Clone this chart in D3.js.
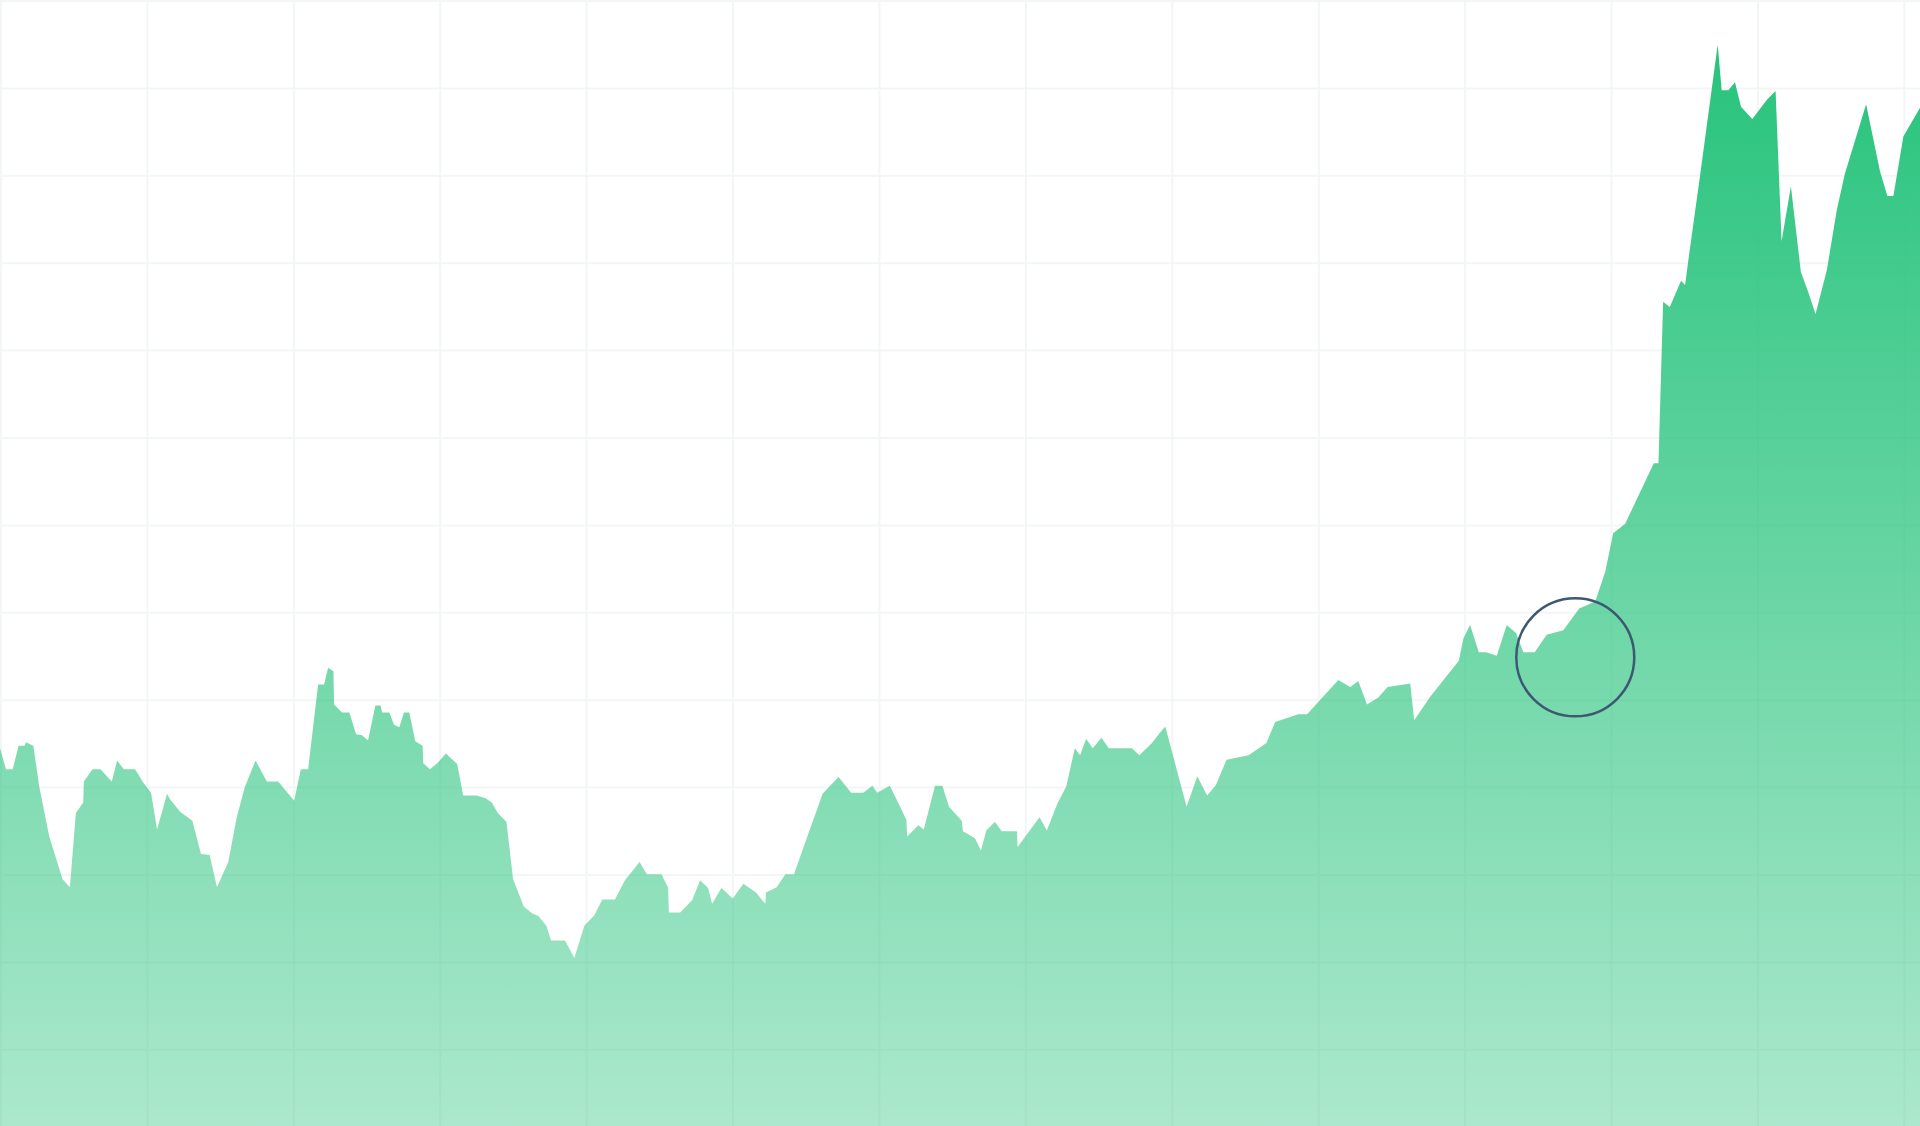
<!DOCTYPE html>
<html>
<head>
<meta charset="utf-8">
<script src="https://cdn.jsdelivr.net/npm/d3@7"></script>
<style>
  html, body { margin: 0; padding: 0; background: #ffffff; overflow: hidden; }
  svg { display: block; }
</style>
</head>
<body>
<div id="chart"></div>
<script>
// ---- data (trading-day offset, price) ----
const days = [
  0, 0.9, 1.9, 2.8, 3.7, 3.9, 5.0, 5.9, 7.4, 9.4,
  10.5, 11.4, 12.5, 12.6, 13.9, 15.1, 16.8, 17.6, 18.6, 20.3,
  21.5, 22.7, 23.6, 25.1, 25.6, 27.1, 28.9, 30.2, 31.5, 32.6,
  34.3, 35.6, 36.8, 38.4, 40.1, 41.8, 44.2, 45.2, 46.3, 47.8,
  48.7, 49.3, 50.1, 50.2, 51.4, 52.5, 53.5, 54.4, 55.3, 56.4,
  57.2, 57.4, 58.5, 59.2, 60.0, 60.7, 61.5, 62.4, 63.5, 63.6,
  64.6, 65.7, 67.0, 68.7, 69.6, 71.6, 72.9, 73.9, 74.8, 76.1,
  77.1, 78.7, 80.0, 80.9, 82.1, 82.8, 84.9, 86.3, 87.8, 89.3,
  90.5, 92.4, 93.9, 96.1, 97.2, 99.4, 100.4, 100.5, 102.2, 104.0,
  105.2, 106.4, 107.0, 108.4, 110.1, 111.7, 113.6, 115.0, 115.1, 116.7,
  118.0, 119.3, 120.7, 123.6, 126.0, 127.9, 129.7, 131.1, 131.8, 133.7,
  135.0, 136.2, 136.3, 138.0, 138.8, 140.5, 141.6, 142.6, 144.5, 144.7,
  146.5, 147.4, 148.2, 149.5, 150.5, 152.8, 152.9, 156.2, 157.3, 158.9,
  160.2, 161.5, 162.3, 163.2, 164.2, 165.5, 166.6, 170.1, 171.2, 173.1,
  174.1, 175.1, 178.3, 179.9, 181.4, 182.7, 184.3, 187.6, 190.3, 191.6,
  195.1, 196.4, 201.1, 202.9, 204.1, 205.4, 207.1, 208.5, 211.9, 212.5,
  214.9, 219.2, 219.9, 220.9, 222.2, 223.3, 224.9, 226.4, 227.8, 228.9,
  230.6, 232.4, 234.9, 237.3, 239.7, 241.2, 242.4, 244.2, 248.5, 249.2,
  249.9, 250.9, 252.6, 253.2, 253.7, 255.5, 258.1, 258.7, 259.7, 260.7,
  261.6, 263.3, 265.5, 266.8, 267.7, 269.1, 270.6, 271.7, 272.8, 274.5,
  276.0, 277.2, 280.4, 282.5, 283.6, 284.5, 286.0, 288.5
];
const values = [
  44.5, 42.1, 42.1, 44.8, 44.8, 45.2, 44.8, 40.1, 34.4, 29.5,
  28.6, 37.1, 38.3, 40.7, 42.1, 42.1, 40.7, 43.1, 42.1, 42.1,
  40.6, 39.4, 35.2, 39.3, 38.6, 37.2, 36.2, 32.4, 32.3, 28.6,
  31.5, 36.7, 40.1, 43.1, 40.7, 40.7, 38.5, 42.1, 42.1, 51.8,
  51.8, 53.7, 53.3, 49.5, 48.6, 48.6, 46.1, 46.0, 45.4, 49.4,
  49.4, 48.6, 48.6, 47.2, 46.9, 48.6, 48.6, 45.3, 44.8, 42.8,
  42.1, 42.8, 43.9, 42.7, 39.1, 39.1, 38.8, 38.3, 37.1, 36.1,
  29.5, 26.4, 25.6, 25.3, 24.2, 22.5, 22.5, 20.5, 24.2, 25.4,
  27.2, 27.2, 29.4, 31.5, 30.1, 30.1, 28.5, 25.7, 25.7, 27.1,
  29.4, 28.5, 26.7, 28.5, 27.3, 29.0, 28.0, 26.7, 28.0, 28.6,
  30.1, 30.1, 33.1, 39.3, 41.2, 39.4, 39.4, 40.2, 39.4, 40.2,
  38.2, 36.3, 34.4, 35.7, 35.2, 40.2, 40.2, 37.8, 36.2, 35.0,
  34.2, 32.8, 35.1, 36.1, 35.0, 35.0, 33.2, 36.6, 35.1, 38.2,
  40.1, 44.5, 43.7, 45.6, 44.5, 45.7, 44.5, 44.5, 43.7, 45.1,
  46.1, 47.0, 37.8, 41.3, 39.1, 40.3, 43.2, 43.7, 45.1, 47.5,
  48.4, 48.4, 52.3, 51.5, 52.2, 49.5, 50.3, 51.5, 51.9, 47.7,
  50.4, 54.5, 57.1, 58.6, 55.5, 55.5, 55.1, 58.6, 57.7, 55.5,
  55.5, 57.5, 58.0, 60.5, 61.3, 64.7, 69.1, 70.2, 77.1, 77.1,
  95.6, 95.0, 98.0, 97.5, 100.4, 110.3, 125.0, 119.8, 119.8, 120.7,
  117.9, 116.5, 118.7, 119.7, 102.5, 108.8, 99.0, 96.7, 94.2, 99.2,
  106.1, 110.2, 118.2, 110.5, 107.7, 107.7, 114.5, 117.8
];
// grid ticks
const xGridTicks = d3.range(0, 289, 22);   // one line per ~22 trading days
const yGridTicks = d3.range(0, 131, 10);   // one line per 10 price units
// highlighted point (ring annotation)
const highlightDay = [236.7];
const highlightValue = [54.9];

// ---- layout ----
const W = 1920, H = 1126;
const svg = d3.select("#chart").append("svg")
  .attr("width", W).attr("height", H)
  .attr("viewBox", `0 0 ${W} ${H}`);

const x = d3.scaleLinear().domain([0, 288.5]).range([0, W]);
const y = d3.scaleLinear().domain([0, 130]).range([1137.2, 1]);

const data = days.map((d, i) => ({ d, v: values[i] }));

// gradient
const defs = svg.append("defs");
const grad = defs.append("linearGradient")
  .attr("id", "areaGrad")
  .attr("x1", 0).attr("y1", 0).attr("x2", 0).attr("y2", 1);
grad.append("stop").attr("offset", "0%").attr("stop-color", "#27c37c").attr("stop-opacity", 1);
grad.append("stop").attr("offset", "100%").attr("stop-color", "#27c37c").attr("stop-opacity", 0.38);

// grid
const grid = svg.append("g").attr("class", "grid").attr("transform", "translate(1,0)");
grid.selectAll("line.v").data(xGridTicks).join("line")
  .attr("class", "v")
  .attr("x1", d => x(d)).attr("x2", d => x(d))
  .attr("y1", 0).attr("y2", H)
  .attr("stroke", "#f3f6f6").attr("stroke-width", 2);
grid.selectAll("line.h").data(yGridTicks).join("line")
  .attr("class", "h")
  .attr("x1", -1).attr("x2", W)
  .attr("y1", d => y(d)).attr("y2", d => y(d))
  .attr("stroke", "#f3f6f6").attr("stroke-width", 2);

// area
const area = d3.area()
  .x(d => x(d.d))
  .y0(y(0))
  .y1(d => y(d.v))
  .curve(d3.curveLinear);

svg.append("path")
  .datum(data)
  .attr("d", area)
  .attr("fill", "url(#areaGrad)");

// highlight ring
svg.selectAll("circle.hl").data(highlightDay.map((d, i) => ({ d, v: highlightValue[i] })))
  .join("circle")
  .attr("class", "hl")
  .attr("cx", d => x(d.d))
  .attr("cy", d => y(d.v))
  .attr("r", 59)
  .attr("fill", "none")
  .attr("stroke", "#3d5871")
  .attr("stroke-width", 2.5);
</script>
</body>
</html>
